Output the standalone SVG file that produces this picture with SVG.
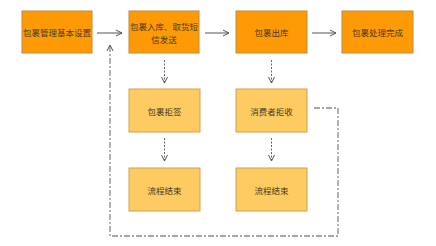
<svg xmlns="http://www.w3.org/2000/svg" width="436" height="246" viewBox="0 0 436 246">
<style>
.top{fill:#FD9A06;stroke:#C58A3A;stroke-width:1}
.sub{fill:#FDCB62;stroke:#CFA24E;stroke-width:1}
text{font-family:"Noto Sans CJK SC","Liberation Sans",sans-serif;font-size:8.5px;fill:#4A3A20;text-anchor:middle;dominant-baseline:central}
.solid{stroke:#555;stroke-width:1;fill:none}
.dot{stroke:#666;stroke-width:1;fill:none;stroke-dasharray:2,1.5}
.dd{stroke:#8A8A8A;stroke-width:1.3;fill:none;stroke-dasharray:6,2,2,2}
</style>
<defs>
<marker id="ah" markerWidth="8" markerHeight="8" refX="7" refY="4" orient="auto" markerUnits="userSpaceOnUse">
<path d="M1,1 L7,4 L1,7" fill="none" stroke="#555" stroke-width="1"/>
</marker>
</defs>
<rect width="436" height="246" fill="#fff"/>
<g id="connectors">
<line class="solid" x1="97" y1="33" x2="122" y2="33" marker-end="url(#ah)"/>
<line class="solid" x1="205" y1="33" x2="229" y2="33" marker-end="url(#ah)"/>
<line class="solid" x1="312" y1="33" x2="336" y2="33" marker-end="url(#ah)"/>
<line class="dot" x1="164.5" y1="60" x2="164.5" y2="83" marker-end="url(#ah)"/>
<line class="dot" x1="271.5" y1="60" x2="271.5" y2="83" marker-end="url(#ah)"/>
<line class="dot" x1="164.5" y1="138" x2="164.5" y2="161" marker-end="url(#ah)"/>
<line class="dot" x1="271.5" y1="138" x2="271.5" y2="161" marker-end="url(#ah)"/>
<path class="dd" d="M314,108 H338 V236 H110 V45" marker-end="url(#ah)"/>
</g>
<g id="n1"><rect class="top" x="22" y="11" width="70" height="42"/><text x="57" y="32">包裹管理基本设置</text></g>
<g id="n2"><rect class="top" x="129" y="11" width="70" height="42"/><text x="164" y="26">包裹入库、取货短</text><text x="164" y="39">信发送</text></g>
<g id="n3"><rect class="top" x="236" y="11" width="71" height="42"/><text x="271.5" y="32">包裹出库</text></g>
<g id="n4"><rect class="top" x="342" y="11" width="71" height="42"/><text x="377.5" y="32">包裹处理完成</text></g>
<g id="n5"><rect class="sub" x="129" y="89" width="71" height="43"/><text x="164.5" y="110.5">包裹拒签</text></g>
<g id="n6"><rect class="sub" x="236" y="89" width="71" height="43"/><text x="271.5" y="110.5">消费者拒收</text></g>
<g id="n7"><rect class="sub" x="129" y="168" width="71" height="43"/><text x="164.5" y="189.5">流程结束</text></g>
<g id="n8"><rect class="sub" x="236" y="168" width="71" height="43"/><text x="271.5" y="189.5">流程结束</text></g>
</svg>
